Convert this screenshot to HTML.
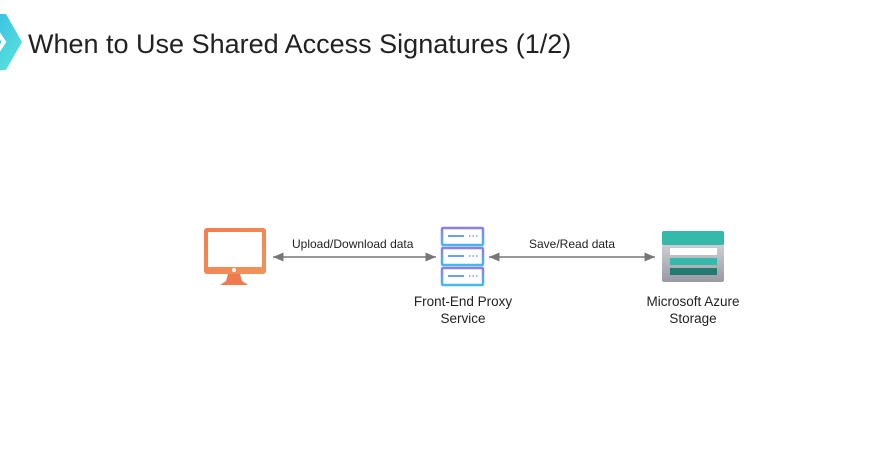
<!DOCTYPE html>
<html><head><style>
body{margin:0;width:886px;height:474px;background:#fff;overflow:hidden;position:relative;font-family:"Liberation Sans",sans-serif;color:#222}
.t{position:absolute;white-space:nowrap}
</style></head><body>
<svg width="886" height="474" style="position:absolute;left:0;top:0">
<defs>
<linearGradient id="g1" x1="0" y1="0" x2="1" y2="1"><stop offset="0" stop-color="#2fb8e8"/><stop offset="1" stop-color="#5ee6d8"/></linearGradient>
<linearGradient id="g2" x1="0" y1="0" x2="1" y2="1"><stop offset="0" stop-color="#f47c50"/><stop offset="1" stop-color="#f0945a"/></linearGradient>
<linearGradient id="g3" x1="0" y1="0" x2="0" y2="1"><stop offset="0" stop-color="#8a7ef0"/><stop offset="1" stop-color="#45b8f0"/></linearGradient>
<linearGradient id="g4" x1="0" y1="0" x2="0" y2="1"><stop offset="0" stop-color="#e0e0e4"/><stop offset="1" stop-color="#9a9aa4"/></linearGradient>
<marker id="a" markerWidth="8" markerHeight="8" refX="7" refY="4" orient="auto-start-reverse"><path d="M0,1 L7,4 L0,7 z" fill="#777"/></marker>
</defs>
<path d="M-20,14 L6,14 L22,42 L6,70 L-20,70 z" fill="url(#g1)"/>
<path d="M-4,30 L4,42 L-4,54" fill="none" stroke="#fff" stroke-width="4"/>
<!-- monitor -->
<rect x="204" y="228" width="62" height="46" rx="3" fill="url(#g2)"/>
<rect x="208" y="232" width="54" height="35" fill="#fff"/>
<circle cx="234" cy="270" r="2" fill="#fff"/>
<path d="M228,274 L240,274 L242,281 L248,285 L220,285 L226,281 z" fill="#f07a50"/>
<!-- server -->
<g fill="#fff" stroke="url(#g3)" stroke-width="2.5">
<rect x="442" y="228" width="41" height="17" rx="1"/>
<rect x="442" y="248" width="41" height="17" rx="1"/>
<rect x="442" y="268" width="41" height="17" rx="1"/>
</g>
<g stroke="#6aa0f0" stroke-width="2"><line x1="448" y1="236" x2="464" y2="236"/><line x1="448" y1="256" x2="464" y2="256"/><line x1="448" y1="276" x2="464" y2="276"/></g>
<g stroke="#7a9af0" stroke-width="1.5" stroke-dasharray="1.5 2"><line x1="469" y1="236" x2="479" y2="236"/><line x1="469" y1="256" x2="479" y2="256"/><line x1="469" y1="276" x2="479" y2="276"/></g>
<!-- storage -->
<rect x="662" y="231" width="62" height="51" rx="2" fill="url(#g4)"/>
<rect x="662" y="231" width="62" height="14" rx="2" fill="#35b9aa"/>
<rect x="670" y="248" width="47" height="7" fill="#fff"/>
<rect x="670" y="258" width="47" height="7" fill="#35b9aa"/>
<rect x="670" y="268" width="47" height="7" fill="#237a70"/>
<!-- arrows -->
<line x1="273" y1="257" x2="436" y2="257" stroke="#777" stroke-width="1.5" marker-start="url(#a)" marker-end="url(#a)"/>
<line x1="489" y1="257" x2="655" y2="257" stroke="#777" stroke-width="1.5" marker-start="url(#a)" marker-end="url(#a)"/>
</svg>
<div class="t" style="left:28px;top:29px;font-size:27px;color:#222">When to Use Shared Access Signatures (1/2)</div>
<div class="t" style="left:292px;top:237px;font-size:12px">Upload/Download data</div>
<div class="t" style="left:529px;top:237px;font-size:12px">Save/Read data</div>
<div class="t" style="left:383px;top:293px;width:160px;text-align:center;font-size:13.5px;line-height:17px">Front-End Proxy<br>Service</div>
<div class="t" style="left:613px;top:293px;width:160px;text-align:center;font-size:13.5px;line-height:17px">Microsoft Azure<br>Storage</div>
</body></html>
